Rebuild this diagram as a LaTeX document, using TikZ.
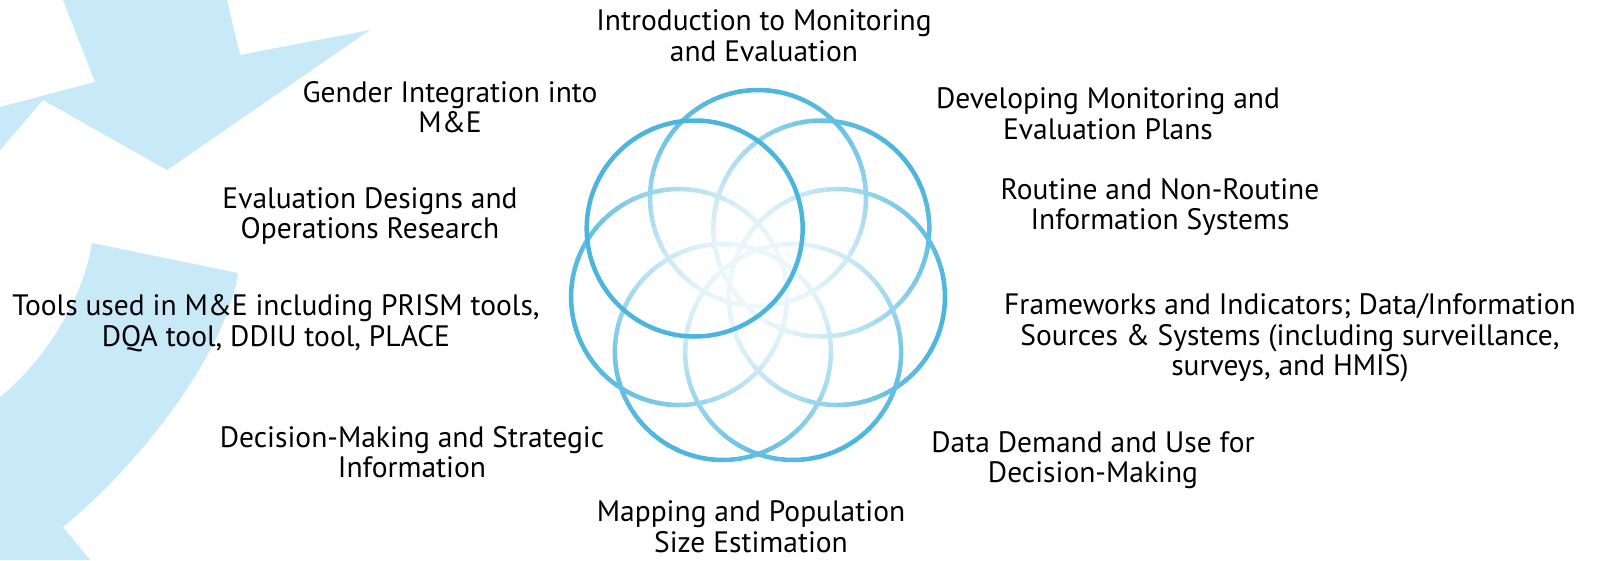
\documentclass[tikz,border=0pt]{standalone}
\usepackage{fontspec}
\setmainfont{PT Sans}
\definecolor{ringdark}{RGB}{76,181,221}
\definecolor{ringlight}{RGB}{236,247,252}
\definecolor{bgblue}{RGB}{200,233,247}
\begin{document}
\begin{tikzpicture}[x=1pt,y=-1pt,
  lbl/.style={align=center, font=\fontsize{29.5}{30.6}\selectfont, inner sep=0pt},
  ring/.style={line width=4.5pt}]
\useasboundingbox (0,0) rectangle (1602,560);
\fill[white] (0,0) rectangle (1602,560);
% background watermark
\fill[bgblue] (63,0) -- (95,82) -- (0,107) -- (0,150) -- (43,100) -- (167,170) -- (370,30) -- (240,55) -- (227,0) -- cycle;
\fill[bgblue] (92,243) -- (238,273) .. controls (228,345) and (150,455) .. (63,527) -- (90,560) -- (0,560) -- (0,397) .. controls (40,365) and (82,305) .. (92,243) -- cycle;
% gradient circles, two passes (inner light parts first)
\foreach \pass in {0,1}{
  \foreach \i in {0,...,5}{
    \pgfmathsetmacro\ph{270+\i*360/7}
    \pgfmathsetmacro\cx{758+81*cos(\ph)}
    \pgfmathsetmacro\cy{279+81*sin(\ph)}
    \foreach \k in {0,...,71}{
      \pgfmathsetmacro\th{\k*5}
      \pgfmathsetmacro\dd{cos(\th+2.5-\ph)}
      \pgfmathtruncatemacro\t{50*(1+\dd)}
      \pgfmathtruncatemacro\pos{\dd>=0 ? 1 : 0}
      \ifnum\pos=\pass
        \draw[ring, ringdark!\t!ringlight] ({\cx+108*cos(\th)},{\cy+108*sin(\th)}) arc[start angle=\th, delta angle=5.6, radius=108];
      \fi
    }
  }
}
% uniform dark circle (upper left)
\pgfmathsetmacro\cxs{758+81*cos(270+6*360/7)}
\pgfmathsetmacro\cys{279+81*sin(270+6*360/7)}
\draw[ring, ringdark] (\cxs,\cys) circle[radius=108];
% labels
\node[lbl] (intro) at (764,36) {Introduction to Monitoring\\and Evaluation};
\node[lbl] (develop) at (1108,114) {Developing Monitoring and\\Evaluation Plans};
\node[lbl] (routine) at (1160,207) {Routine and Non-Routine\\Information Systems};
\node[lbl] (frame) at (1290,338) {Frameworks and Indicators; Data/Information\\Sources \& Systems (including surveillance,\\surveys, and HMIS)};
\node[lbl] (demand) at (1093,460) {Data Demand and Use for\\Decision-Making};
\node[lbl] (mapping) at (751,527) {Mapping and Population\\Size Estimation};
\node[lbl] (decision) at (412,452) {Decision-Making and Strategic\\Information};
\node[lbl] (tools) at (276,323) {Tools used in M\&E including PRISM tools,\\DQA tool, DDIU tool, PLACE};
\node[lbl] (evaldes) at (370,216) {Evaluation Designs and\\Operations Research};
\node[lbl] (gender) at (450,107) {Gender Integration into\\M\&E};
\end{tikzpicture}
\end{document}
